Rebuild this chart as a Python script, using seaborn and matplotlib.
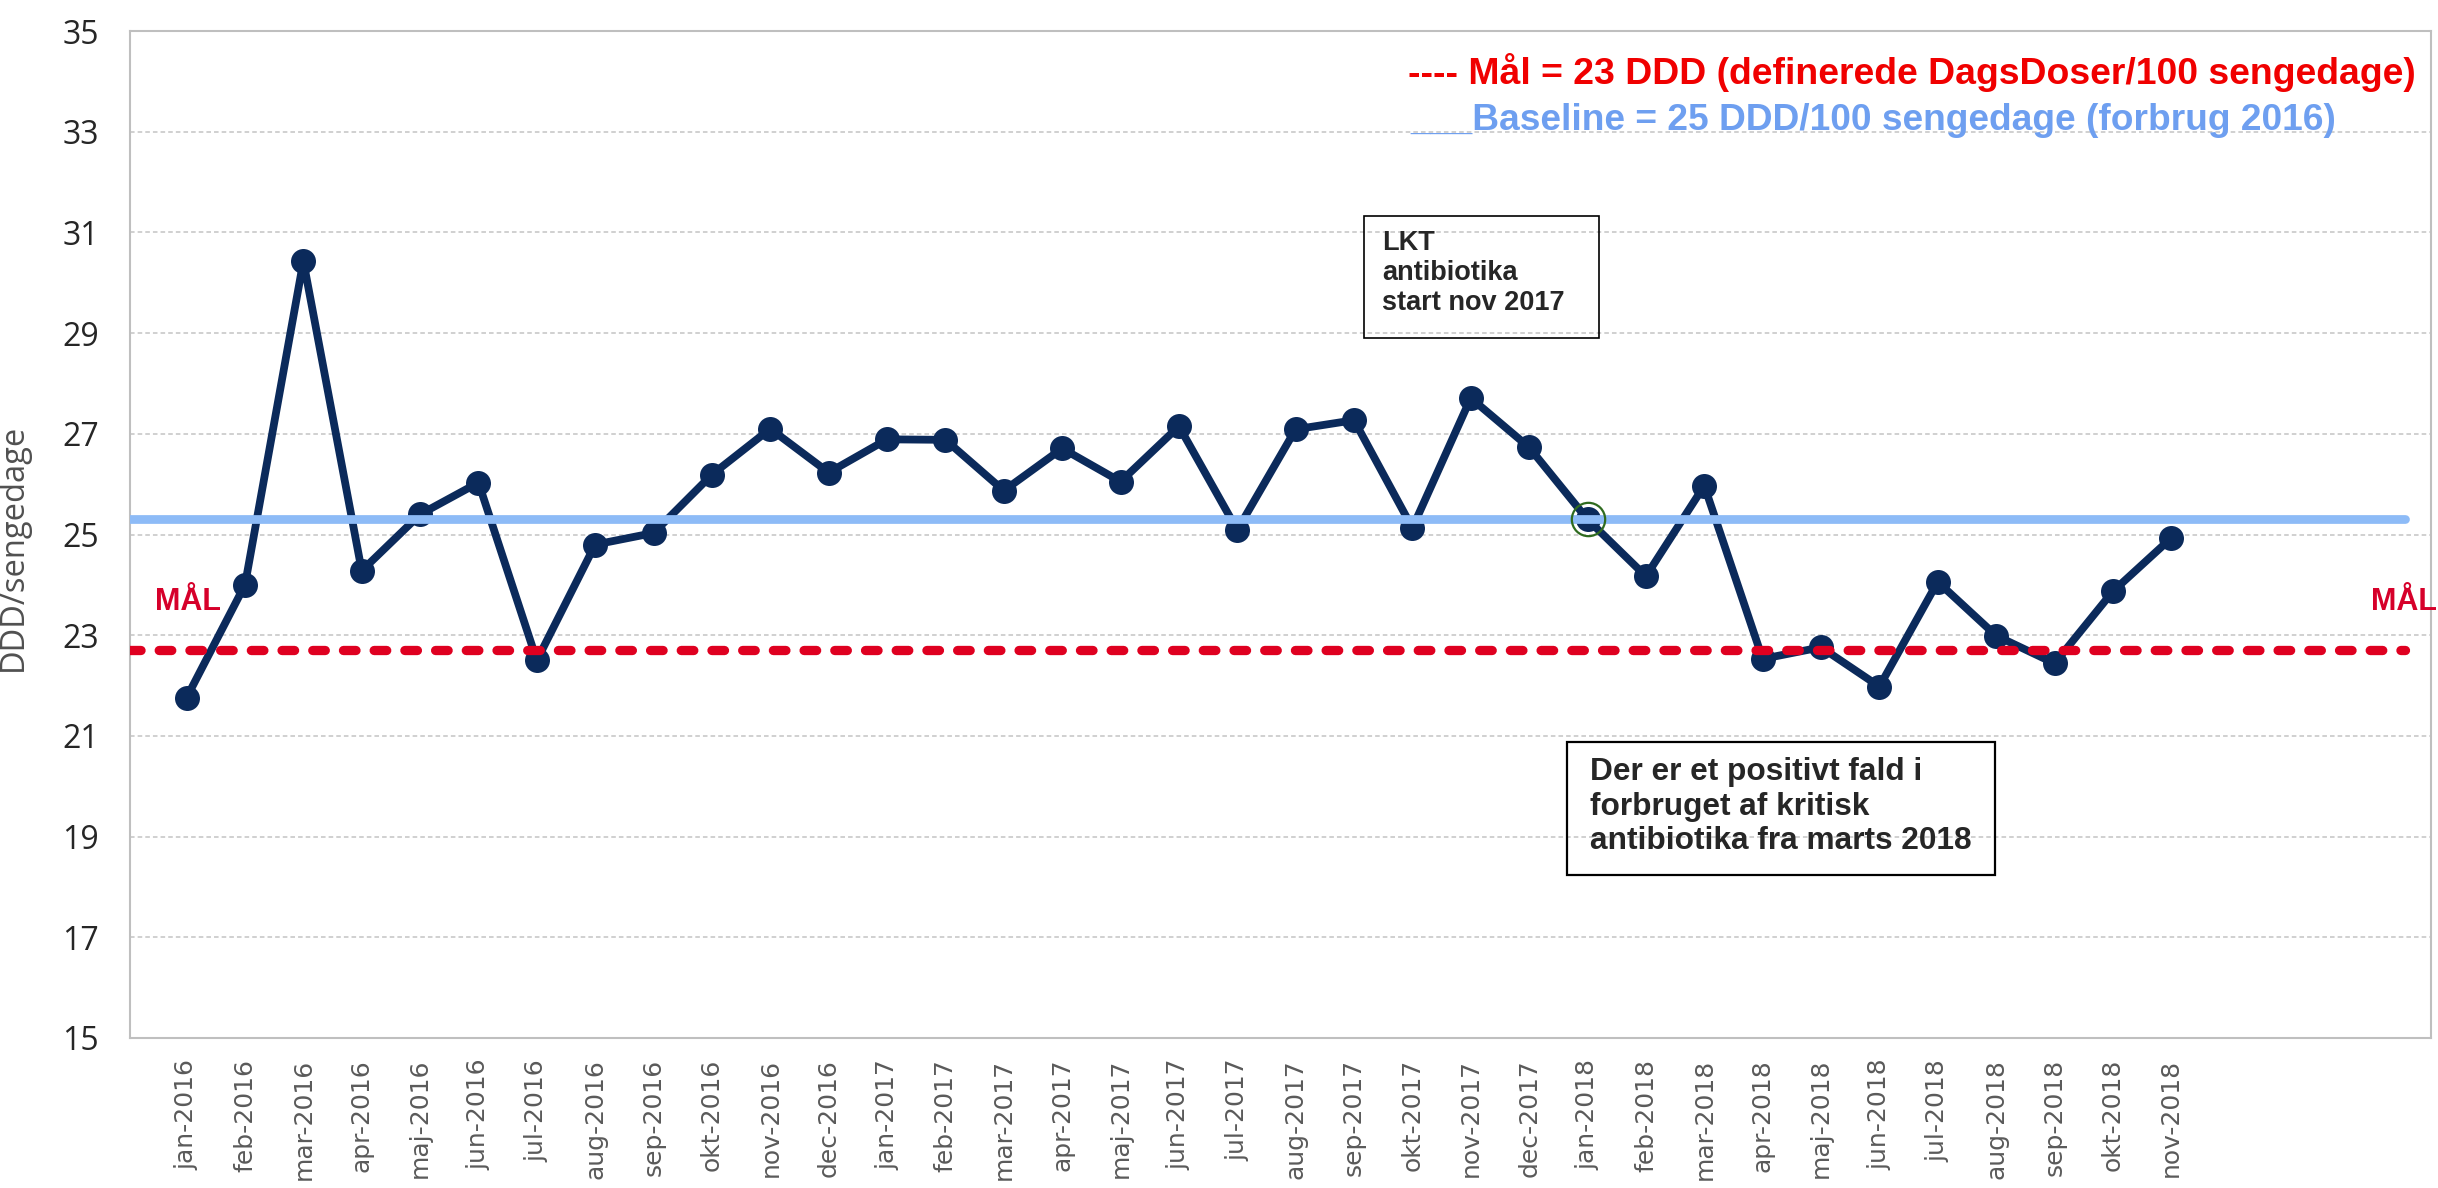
import numpy as np
import pandas as pd
import seaborn as sns
import matplotlib.pyplot as plt
from matplotlib.patches import Rectangle

months = [
    "jan-2016", "feb-2016", "mar-2016", "apr-2016", "maj-2016", "jun-2016",
    "jul-2016", "aug-2016", "sep-2016", "okt-2016", "nov-2016", "dec-2016",
    "jan-2017", "feb-2017", "mar-2017", "apr-2017", "maj-2017", "jun-2017",
    "jul-2017", "aug-2017", "sep-2017", "okt-2017", "nov-2017", "dec-2017",
    "jan-2018", "feb-2018", "mar-2018", "apr-2018", "maj-2018", "jun-2018",
    "jul-2018", "aug-2018", "sep-2018", "okt-2018", "nov-2018",
]
ddd = [
    21.76, 24.00, 30.43, 24.28, 25.40, 26.03, 22.50, 24.80, 25.03, 26.19, 27.10, 26.23,
    26.89, 26.88, 25.87, 26.71, 26.05, 27.15, 25.09, 27.09, 27.27, 25.13, 27.71, 26.73,
    25.30, 24.17, 25.97, 22.53, 22.76, 21.98, 24.06, 22.99, 22.44, 23.87, 24.93,
]
empty_slots = 4          # blank categories on the axis after nov-2018
baseline = 25.3          # drawn level of the 2016 baseline
target = 22.7            # drawn level of the goal (MÅL)
highlight = "jan-2018"
y_ticks = list(range(15, 36, 2))

NAVY = "#0b2a5b"
BASE_BLUE = "#8dbbf7"
GOAL_RED = "#df0020"

sns.set_style("white")
plt.rcParams["font.family"] = ["Liberation Sans", "DejaVu Sans"]

df = pd.DataFrame({"month": months, "ddd": ddd})
df["pos"] = np.arange(len(df))

fig = plt.figure(figsize=(24.38, 11.88), dpi=100)
W, H = 2438, 1188
ax = fig.add_axes([130 / W, 1 - 1038 / H, (2431 - 130) / W, (1038 - 31) / H])

n_slots = len(months) + empty_slots
ax.set_xlim(-0.97, n_slots - 0.55)
ax.set_ylim(15, 35)

# grid
ax.set_yticks(y_ticks)
ax.yaxis.grid(True, linestyle=(0, (3, 2)), color="#c4c4c4", linewidth=1.1, zorder=0)
ax.set_axisbelow(True)

# main series
sns.lineplot(
    data=df, x="pos", y="ddd", ax=ax, color=NAVY, linewidth=5.6,
    marker="o", markersize=18, markeredgewidth=0, zorder=3,
)

# baseline and goal lines (drawn on top of the series)
x_ext = [-1, n_slots - 1]
ax.plot(x_ext, [baseline, baseline], color=BASE_BLUE, linewidth=6.3,
        solid_capstyle="round", zorder=4)
ax.plot(x_ext, [target, target], color=GOAL_RED, linewidth=6.7,
        linestyle=(0, (1.35, 1.95)), dash_capstyle="round", zorder=4)

# highlighted point
hp = df[df["month"] == highlight]
ax.plot(hp["pos"], hp["ddd"], linestyle="none", marker="o", markersize=24,
        markerfacecolor="none", markeredgecolor="#2f6b1f", markeredgewidth=1.6,
        zorder=5)

# axes styling
ax.set_xticks(np.arange(n_slots))
ax.set_xticklabels(months + [""] * empty_slots, rotation=90,
                   fontfamily="DejaVu Sans", fontsize=18, color="#5a5a5a")
ax.set_yticklabels([str(t) for t in y_ticks], fontfamily="Open Sans",
                   fontsize=23, color="#262626")
ax.tick_params(axis="x", length=7, width=1.2, color="#bfbfbf", pad=8)
ax.tick_params(axis="y", length=9.5, width=1.2, color="#bfbfbf", pad=13)
ax.set_xlabel("")
ax.set_ylabel("DDD/sengedage", fontfamily="Open Sans", fontsize=23.5, color="#505050")
ax.yaxis.set_label_coords(-0.0435, 0.487)
for s in ax.spines.values():
    s.set_color("#bfbfbf")
    s.set_linewidth(1.5)

# MÅL labels
fig.text(155 / W, 1 - 602 / H, "MÅL", color="#d6002a", fontsize=22,
         fontweight="bold", ha="left", va="center")
fig.text(0.9995, 1 - 602 / H, "MÅL", color="#d6002a", fontsize=22,
         fontweight="bold", ha="right", va="center")

# legend texts
fig.text(1408 / W, 1 - 73 / H,
         "---- Mål = 23 DDD (definerede DagsDoser/100 sengedage)",
         color="#f00000", fontsize=26.9, fontweight="bold", ha="left", va="center")
fig.text(1410 / W, 1 - 121 / H,
         "___Baseline = 25 DDD/100 sengedage (forbrug 2016)",
         color="#6e9ff0", fontsize=26.7, fontweight="bold", ha="left", va="center")

# annotation boxes
fig.patches.append(Rectangle((1364 / W, 1 - 338 / H), 235 / W, 122 / H,
                             transform=fig.transFigure, fill=False,
                             edgecolor="black", linewidth=1.2))
fig.text(1382 / W, 1 - 230 / H, "LKT\nantibiotika\nstart nov 2017",
         fontsize=19.5, fontweight="bold", ha="left", va="top", linespacing=1.2)

fig.patches.append(Rectangle((1567 / W, 1 - 875 / H), 428 / W, 133 / H,
                             transform=fig.transFigure, fill=False,
                             edgecolor="black", linewidth=1.6))
fig.text(1590 / W, 1 - 757 / H,
         "Der er et positivt fald i\nforbruget af kritisk\nantibiotika fra marts 2018",
         fontsize=22.8, fontweight="bold", ha="left", va="top", linespacing=1.2)

fig.savefig("out.png", dpi=100)
